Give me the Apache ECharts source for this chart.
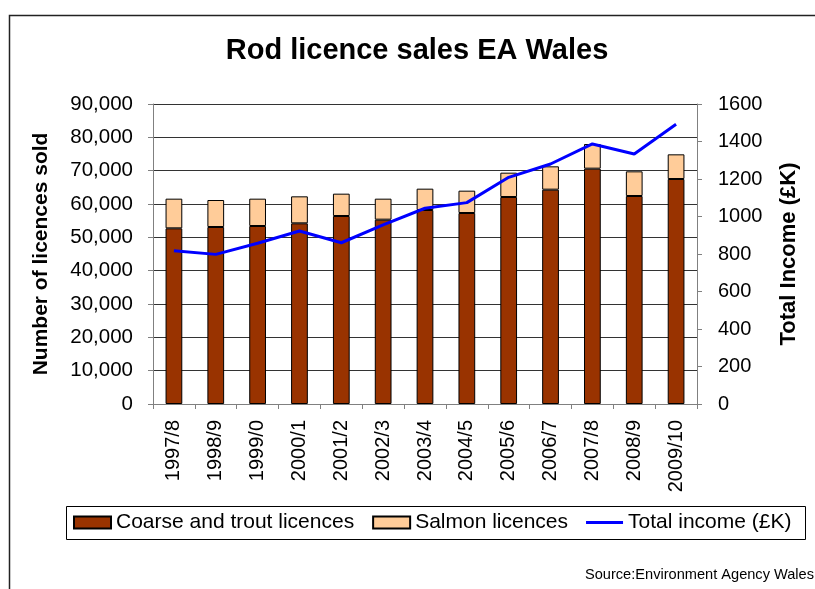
<!DOCTYPE html>
<html>
<head>
<meta charset="utf-8">
<script src="https://cdn.jsdelivr.net/npm/echarts@6/dist/echarts.min.js"></script>
<style>
  html, body { margin: 0; padding: 0; background: #fff; }
  #chart { width: 815px; height: 589px; }
</style>
</head>
<body>
<div id="chart"></div>
<script>
const years = ["1997/8", "1998/9", "1999/0", "2000/1", "2001/2", "2002/3", "2003/4",
  "2004/5", "2005/6", "2006/7", "2007/8", "2008/9", "2009/10"];
const coarse = [52700, 53100, 53400, 54200, 56400, 55300, 58200, 57300, 62100, 64300, 70600, 62400, 67500];
const salmon = [8900, 8100, 8200, 8100, 6700, 6300, 6400, 6700, 7300, 7000, 7400, 7400, 7400];
const income = [817, 798, 857, 923, 860, 955, 1044, 1074, 1209, 1280, 1387, 1333, 1492];

const font = "'Liberation Sans', Arial, sans-serif";
// thin bar inside a 37x12 box, so the legend shows a plain line
const lineIcon = "path://M0,0L0.01,0L0,0.01Z M0,4.5L37,4.5L37,7.5L0,7.5Z M37,12L36.99,12L37,11.99Z";
const chart = echarts.init(document.getElementById("chart"));

const option = {
  animation: false,
  textStyle: { fontFamily: font, color: "#000" },
  grid: { left: 153, right: 118, top: 104, bottom: 185 },
  legend: {
    left: 73,
    top: 512,
    padding: 0,
    itemGap: 18,
    itemWidth: 37,
    itemHeight: 12,
    textStyle: { fontFamily: font, fontSize: 21, color: "#000" },
    data: [
      { name: "Coarse and trout licences", icon: "rect" },
      { name: "Salmon licences", icon: "rect" },
      { name: "Total income (£K)", icon: lineIcon, itemStyle: { color: "#0000ff", borderWidth: 0 } }
    ]
  },
  graphic: [
    {
      type: "rect",
      shape: { x: 9.5, y: 15.5, width: 900, height: 700 },
      style: { fill: "none", stroke: "#222", lineWidth: 1.5 }
    },
    {
      type: "rect",
      shape: { x: 66.5, y: 506.5, width: 739, height: 33 },
      style: { fill: "none", stroke: "#000", lineWidth: 1 }
    },
    {
      // chart title
      type: "text",
      x: 417,
      y: 51,
      style: {
        text: "Rod licence sales EA Wales",
        font: "bold 29px " + font,
        fill: "#000",
        textAlign: "center",
        textVerticalAlign: "middle"
      }
    },
    {
      type: "text",
      x: 585,
      y: 575,
      style: {
        text: "Source:Environment Agency Wales",
        font: "14.6px " + font,
        fill: "#000",
        textVerticalAlign: "middle"
      }
    }
  ],
  xAxis: {
    type: "category",
    data: years,
    axisLine: { lineStyle: { color: "#808080", width: 1 } },
    axisTick: { show: true, length: 5, lineStyle: { color: "#808080" } },
    axisLabel: { rotate: 90, interval: 0, fontSize: 20, margin: 16, color: "#000" }
  },
  yAxis: [
    {
      type: "value",
      min: 0,
      max: 90000,
      interval: 10000,
      name: "Number of licences sold",
      nameLocation: "middle",
      nameGap: 101,
      nameTextStyle: { fontFamily: font, fontSize: 21, fontWeight: "bold", color: "#000" },
      axisLine: { show: true, lineStyle: { color: "#808080" } },
      axisTick: { show: true, length: 5, lineStyle: { color: "#808080" } },
      splitLine: { show: true, lineStyle: { color: "#333", width: 1 } },
      axisLabel: {
        fontSize: 20.5,
        margin: 20,
        color: "#000",
        formatter: v => v.toLocaleString("en-US")
      }
    },
    {
      type: "value",
      position: "right",
      min: 0,
      max: 1600,
      interval: 200,
      name: "Total Income (£K)",
      nameLocation: "middle",
      nameGap: 81,
      nameRotate: 90,
      nameTextStyle: { fontFamily: font, fontSize: 22, fontWeight: "bold", color: "#000" },
      axisLine: { show: true, lineStyle: { color: "#808080" } },
      axisTick: { show: true, length: 5, lineStyle: { color: "#808080" } },
      splitLine: { show: false },
      axisLabel: { fontSize: 20, margin: 21, color: "#000", formatter: v => String(v) }
    }
  ],
  series: [
    {
      name: "Coarse and trout licences",
      type: "bar",
      stack: "licences",
      barWidth: "40%",
      data: coarse,
      itemStyle: { color: "#993300", borderColor: "#000", borderWidth: 1 }
    },
    {
      name: "Salmon licences",
      type: "bar",
      stack: "licences",
      data: salmon,
      itemStyle: { color: "#ffcc99", borderColor: "#000", borderWidth: 1 }
    },
    {
      name: "Total income (£K)",
      type: "line",
      yAxisIndex: 1,
      data: income,
      symbol: "none",
      lineStyle: { color: "#0000ff", width: 3 },
      itemStyle: { color: "#0000ff" }
    }
  ]
};

chart.setOption(option);
</script>
</body>
</html>
